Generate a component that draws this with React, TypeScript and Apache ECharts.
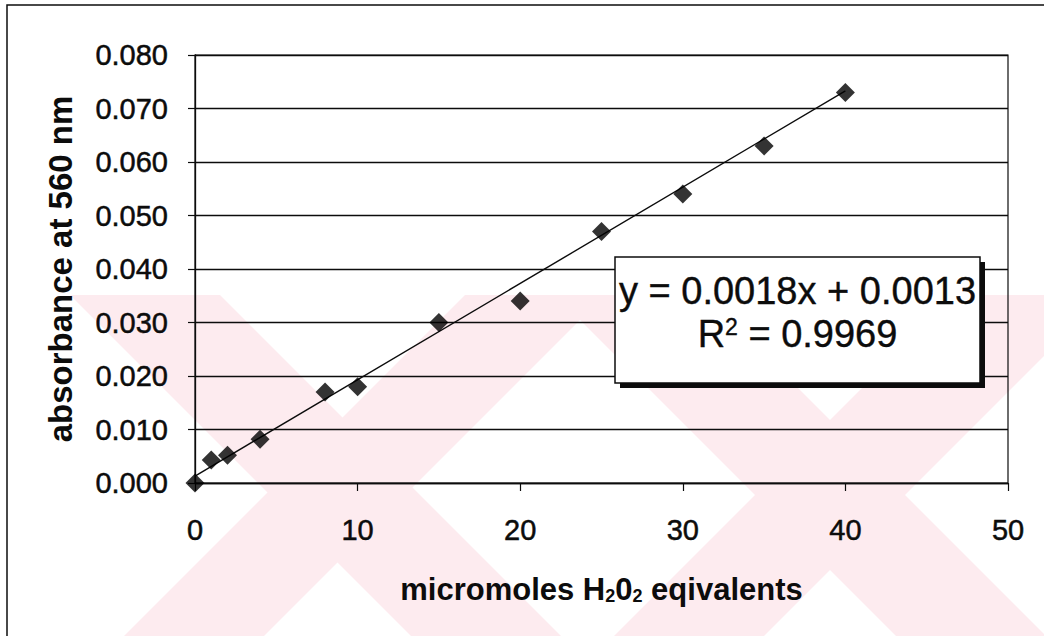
import React, { useEffect, useRef } from "react";
import * as echarts from "echarts";

// Calibration standard: H2O2 equivalents vs absorbance at 560 nm
const micromoles = [0, 1, 2, 4, 8, 10, 15, 20, 25, 30, 35, 40];
const absorbance = [0, 0.0043, 0.0052, 0.0082, 0.017, 0.018, 0.03, 0.034, 0.047, 0.054, 0.063, 0.073];

// Least-squares fit reported on the chart
const slope = 0.0018;
const intercept = 0.0013;
const rSquared = "0.9969";
const fitRange = [0, 40];

const FONT = "'Liberation Sans', Arial, Helvetica, sans-serif";
const INK = "#0c0c0c";
const WASH = "#fdebef";

// Light diagonal wash in the lower half of the page
const TOP = 295;
const BOT = 636;
const downBands = [
  [-225, -75],
  [260, 410],
];
const upBands = [
  [760, 900],
  [1250, 1400],
];

function washPolygons() {
  const els: any[] = [];
  downBands.forEach(([a, b]) => {
    els.push({
      type: "polygon",
      z: -10,
      silent: true,
      shape: { points: [[a + TOP, TOP], [b + TOP, TOP], [b + BOT, BOT], [a + BOT, BOT]] },
      style: { fill: WASH },
    });
  });
  upBands.forEach(([c, d]) => {
    els.push({
      type: "polygon",
      z: -10,
      silent: true,
      shape: { points: [[c - TOP, TOP], [d - TOP, TOP], [d - BOT, BOT], [c - BOT, BOT]] },
      style: { fill: WASH },
    });
  });
  return els;
}

export default function App() {
  const ref = useRef<HTMLDivElement>(null);

  useEffect(() => {
    if (!ref.current) return;
    const chart = echarts.init(ref.current, null, { renderer: "svg" });

    const fitData = fitRange.map((x) => [x, slope * x + intercept]);
    const points = micromoles.map((x, i) => [x, absorbance[i]]);

    const boxX = 615;
    const boxY = 257;
    const boxW = 365;
    const boxH = 126;

    const labelStyle = {
      fontFamily: FONT,
      fontSize: 29,
      color: INK,
      textBorderColor: INK,
      textBorderWidth: 0.5,
    };

    chart.setOption({
      animation: false,
      backgroundColor: "#ffffff",
      textStyle: { fontFamily: FONT },
      grid: {
        left: 195,
        right: 36,
        top: 55,
        bottom: 153,
        show: true,
        borderColor: INK,
        borderWidth: 1.2,
        backgroundColor: "transparent",
      },
      xAxis: {
        type: "value",
        min: 0,
        max: 50,
        interval: 10,
        name: "micromoles H{sub|2}0{sub|2} eqivalents",
        nameLocation: "middle",
        nameGap: 91,
        nameTextStyle: {
          fontFamily: FONT,
          fontWeight: "bold",
          fontSize: 31,
          color: INK,
          rich: {
            sub: { fontSize: 18, fontWeight: "bold", color: INK, fontFamily: FONT, verticalAlign: "bottom", padding: [12, 0, 0, 0] },
          },
        },
        axisLine: { show: true, lineStyle: { color: INK, width: 1.3 } },
        axisTick: { show: true, inside: false, length: 8, lineStyle: { color: INK, width: 1.2 } },
        axisLabel: { ...labelStyle, margin: 32 },
        splitLine: { show: false },
      },
      yAxis: {
        type: "value",
        min: 0,
        max: 0.08,
        interval: 0.01,
        name: "absorbance at 560 nm",
        nameLocation: "middle",
        nameGap: 118,
        nameTextStyle: { fontFamily: FONT, fontWeight: "bold", fontSize: 33, color: INK },
        axisLine: { show: true, lineStyle: { color: INK, width: 1.3 } },
        axisTick: { show: true, inside: false, length: 7, lineStyle: { color: INK, width: 1.2 } },
        axisLabel: {
          ...labelStyle,
          margin: 27,
          formatter: (v: number) => v.toFixed(3),
        },
        splitLine: { show: true, lineStyle: { color: INK, width: 1.3 } },
      },
      series: [
        {
          type: "line",
          data: fitData,
          showSymbol: false,
          symbol: "none",
          lineStyle: { color: INK, width: 1.4 },
          z: 3,
          silent: true,
        },
        {
          type: "scatter",
          data: points,
          symbol: "diamond",
          symbolSize: 19,
          itemStyle: { color: "#000000" },
          z: 4,
        },
      ],
      graphic: {
        elements: [
          ...washPolygons(),
          // page frame (top and left edges)
          {
            type: "polyline",
            z: 1,
            silent: true,
            shape: { points: [[7, 636], [7, 5], [1044, 5]] },
            style: { stroke: INK, lineWidth: 1.5, fill: null },
          },
          // trendline equation box with drop shadow
          {
            type: "rect",
            z: 20,
            silent: true,
            shape: { x: boxX + 5, y: boxY + 5, width: boxW, height: boxH },
            style: { fill: INK },
          },
          {
            type: "rect",
            z: 21,
            silent: true,
            shape: { x: boxX, y: boxY, width: boxW, height: boxH },
            style: { fill: "#ffffff", stroke: INK, lineWidth: 1.5 },
          },
          {
            type: "text",
            z: 22,
            silent: true,
            x: boxX + boxW / 2,
            y: 291,
            style: {
              text: `y = ${slope.toFixed(4)}x + ${intercept.toFixed(4)}`,
              fontFamily: FONT,
              fontSize: 38,
              fill: INK,
              stroke: INK,
              lineWidth: 0.4,
              align: "center",
              verticalAlign: "middle",
            },
          },
          {
            type: "text",
            z: 22,
            silent: true,
            x: boxX + boxW / 2,
            y: 334,
            style: {
              text: `R{sup|2} = ${rSquared}`,
              fontFamily: FONT,
              fontSize: 38,
              fill: INK,
              stroke: INK,
              lineWidth: 0.4,
              align: "center",
              verticalAlign: "middle",
              rich: {
                sup: { fontSize: 23, fontFamily: FONT, fill: INK, verticalAlign: "top", padding: [0, 0, 14, 0] },
              },
            },
          },
        ],
      },
    });

    return () => chart.dispose();
  }, []);

  return (
    <div
      ref={ref}
      style={{ position: "fixed", left: 0, top: 0, width: 1044, height: 636, background: "#fff" }}
    />
  );
}
